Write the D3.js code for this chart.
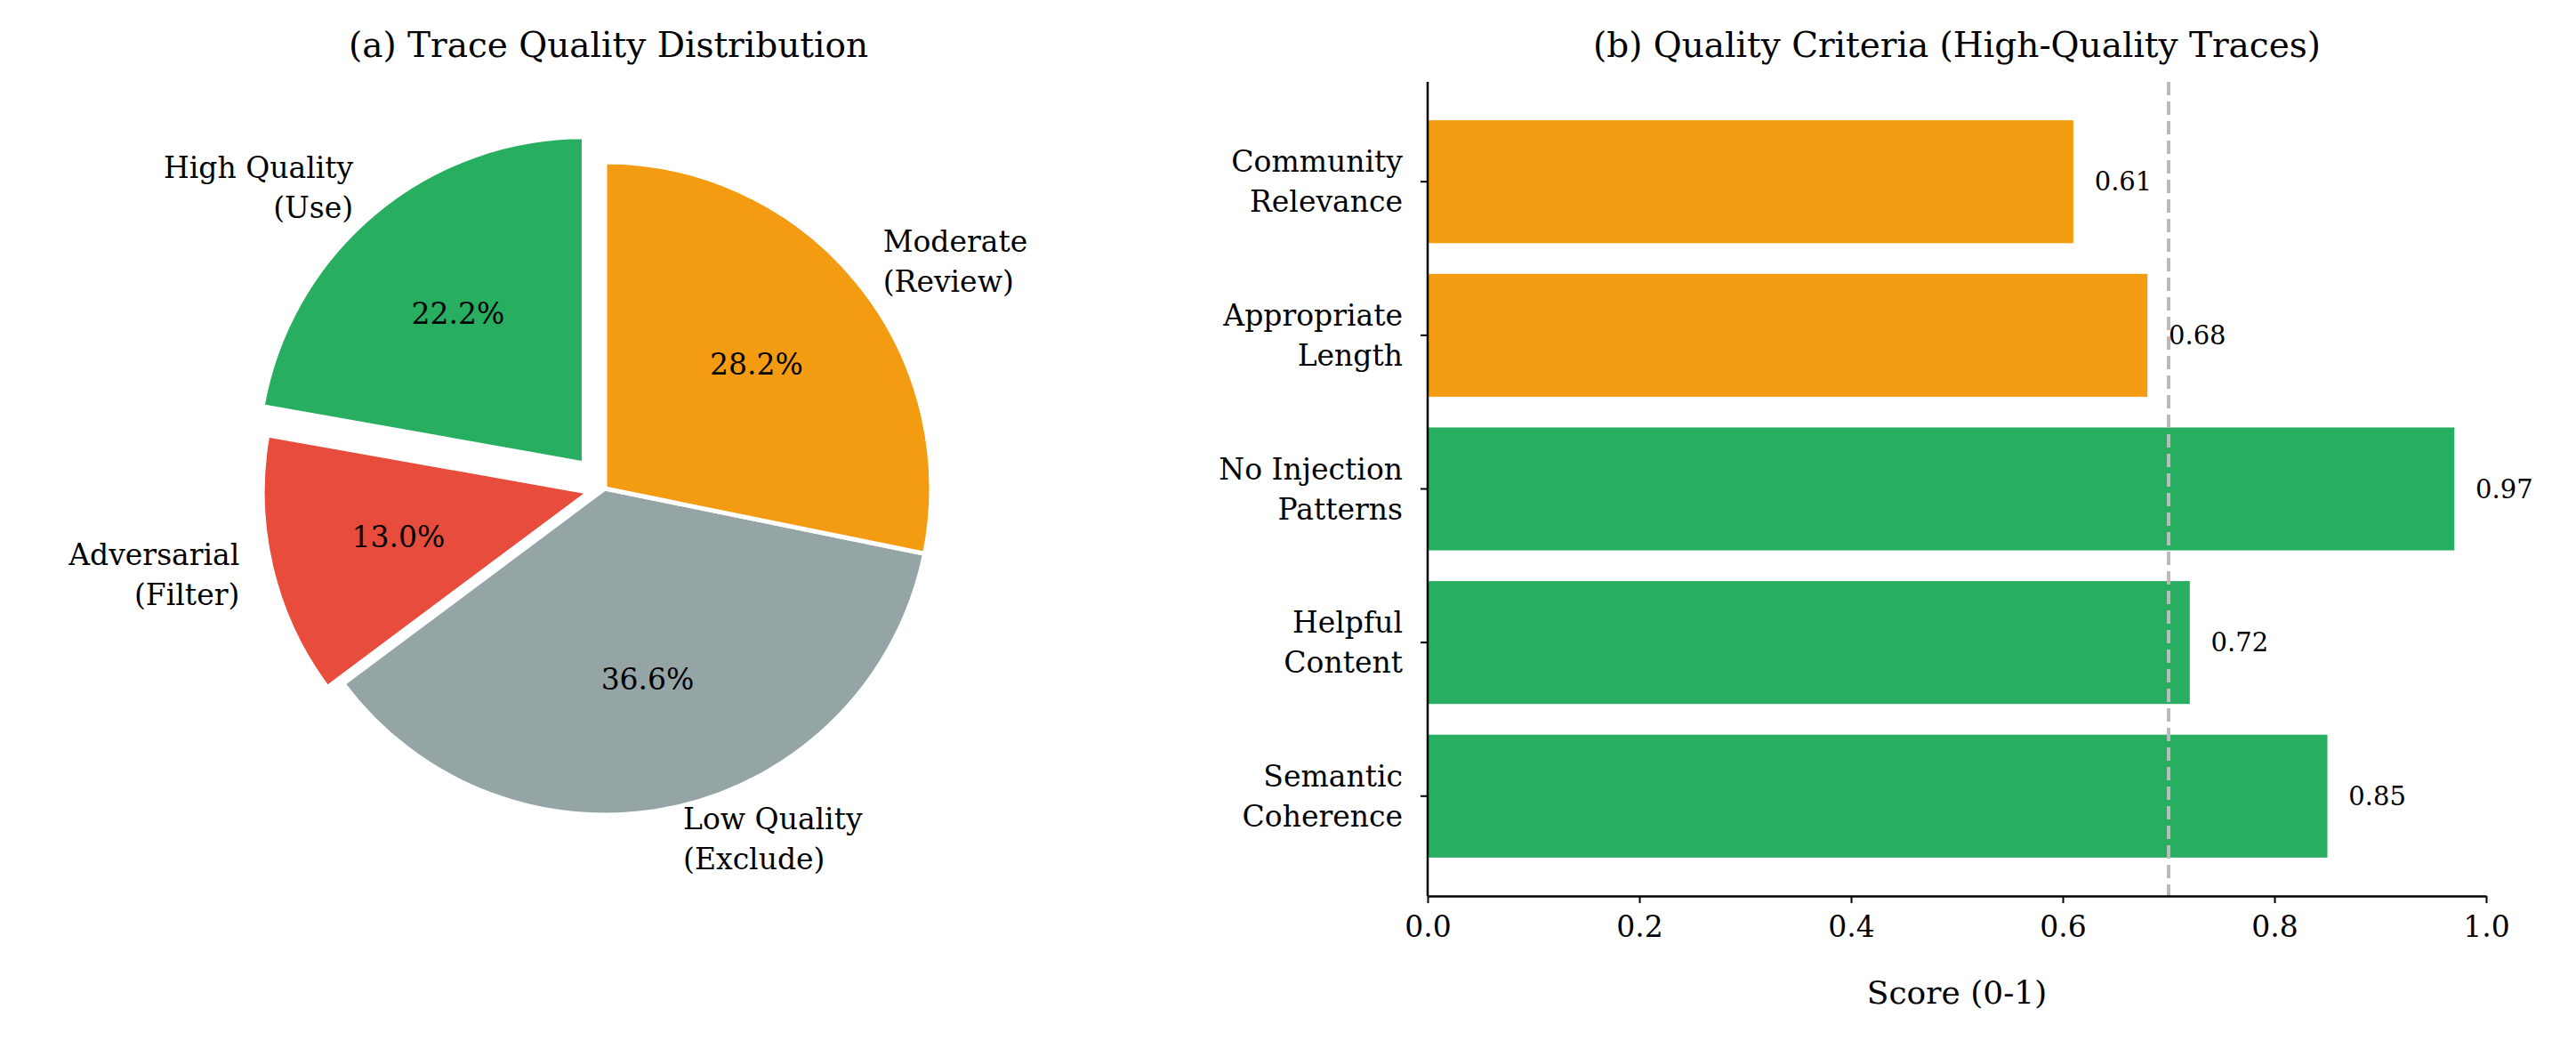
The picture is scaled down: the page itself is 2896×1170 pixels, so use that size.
<!DOCTYPE html>
<html><head><meta charset="utf-8">
<script src="https://cdn.jsdelivr.net/npm/d3@7"></script>
<style>body{margin:0;background:#fff}text{font-family:"DejaVu Serif",serif;fill:#000}</style>
</head><body><svg id="c" width="2896" height="1170"></svg>
<script>
const pieLabels = [["High Quality","(Use)"],["Adversarial","(Filter)"],["Low Quality","(Exclude)"],["Moderate","(Review)"]];
const pieValues = [22.2, 13.0, 36.6, 28.2];
const pieColors = ["#27ae60","#e74c3c","#95a5a6","#f39c12"];
const pieExplode = [0.1, 0.05, 0, 0];
const barCats = [["Semantic","Coherence"],["Helpful","Content"],["No Injection","Patterns"],["Appropriate","Length"],["Community","Relevance"]];
const barValues = [0.85, 0.72, 0.97, 0.68, 0.61];
const barColors = ["#27ae60","#27ae60","#27ae60","#f39c12","#f39c12"];
const xTicks = [0,0.2,0.4,0.6,0.8,1.0];
const threshold = 0.7;

const svg = d3.select("#c");
// ---- Pie ----
const cx = 680, cy = 549, R = 367;
svg.append("text").attr("x",684).attr("y",64).attr("text-anchor","middle").attr("font-size",39).text("(a) Trace Quality Distribution");
const total = d3.sum(pieValues);
// matplotlib: start at 90deg, counterclockwise. d3 angles clockwise from top -> use negative.
const pie = d3.pie().sort(null).value(d=>d).startAngle(0).endAngle(-2*Math.PI);
const arcs = pie(pieValues);
const arc = d3.arc().innerRadius(0).outerRadius(R);
const g = svg.append("g");
arcs.forEach((a,i)=>{
  const mid = (a.startAngle+a.endAngle)/2;
  const dx = Math.sin(mid), dy = -Math.cos(mid);
  const ox = dx*pieExplode[i]*R, oy = dy*pieExplode[i]*R;
  const gg = g.append("g").attr("transform",`translate(${cx+ox},${cy+oy})`);
  gg.append("path").attr("d",arc({startAngle:a.endAngle,endAngle:a.startAngle})).attr("fill",pieColors[i]).attr("stroke","#fff").attr("stroke-width",5).attr("stroke-linejoin","round");
  gg.append("text").attr("x",dx*0.6*R).attr("y",dy*0.6*R).attr("text-anchor","middle").attr("dominant-baseline","central").attr("font-size",33).text(pieValues[i].toFixed(1)+"%");
  const lx = dx*1.1*R, ly = dy*1.1*R;
  const t = gg.append("text").attr("x",lx).attr("y",ly).attr("text-anchor",lx<0?"end":"start").attr("font-size",33);
  pieLabels[i].forEach((s,k)=>t.append("tspan").attr("x",lx).attr("y",ly+(k-0.5)*45).attr("dominant-baseline","central").text(s));
});
// ---- Bars ----
const L=1605, Rr=2795, T=92, B=1007;
const x = d3.scaleLinear().domain([0,1]).range([L,Rr]);
const y = d3.scaleLinear().domain([-0.65,4.65]).range([B,T]);
svg.append("text").attr("x",2200).attr("y",64).attr("text-anchor","middle").attr("font-size",39).text("(b) Quality Criteria (High-Quality Traces)");
barValues.forEach((v,i)=>{
  svg.append("rect").attr("x",x(0)).attr("y",y(i+0.4)).attr("width",x(v)-x(0)).attr("height",y(i-0.4)-y(i+0.4)).attr("fill",barColors[i]);
  svg.append("text").attr("x",x(v+0.02)).attr("y",y(i)).attr("dominant-baseline","central").attr("font-size",29).text(v.toFixed(2));
});
svg.append("line").attr("x1",x(threshold)).attr("x2",x(threshold)).attr("y1",T).attr("y2",B).attr("stroke","#bbb").attr("stroke-width",4).attr("stroke-dasharray","15,7");
const xa = svg.append("g").attr("transform",`translate(0,${B})`).call(d3.axisBottom(x).tickValues(xTicks).tickFormat(d3.format(".1f")).tickSize(8).tickSizeOuter(0));
xa.select(".domain").attr("stroke-width",2.5);
xa.selectAll(".tick line").attr("stroke-width",2);
xa.selectAll(".tick text").attr("font-size",33).attr("font-family","DejaVu Serif").attr("dy","1.05em");
svg.append("line").attr("x1",L).attr("x2",L).attr("y1",T).attr("y2",B).attr("stroke","#000").attr("stroke-width",2.5);
barCats.forEach((c,i)=>{
  svg.append("line").attr("x1",L-8).attr("x2",L).attr("y1",y(i)).attr("y2",y(i)).attr("stroke","#000").attr("stroke-width",2);
  const t = svg.append("text").attr("text-anchor","end").attr("font-size",33);
  c.forEach((s,k)=>t.append("tspan").attr("x",L-28).attr("y",y(i)+(k-0.5)*45).attr("dominant-baseline","central").text(s));
});
svg.append("text").attr("x",(L+Rr)/2).attr("y",1128).attr("text-anchor","middle").attr("font-size",36).text("Score (0-1)");
</script></body></html>
